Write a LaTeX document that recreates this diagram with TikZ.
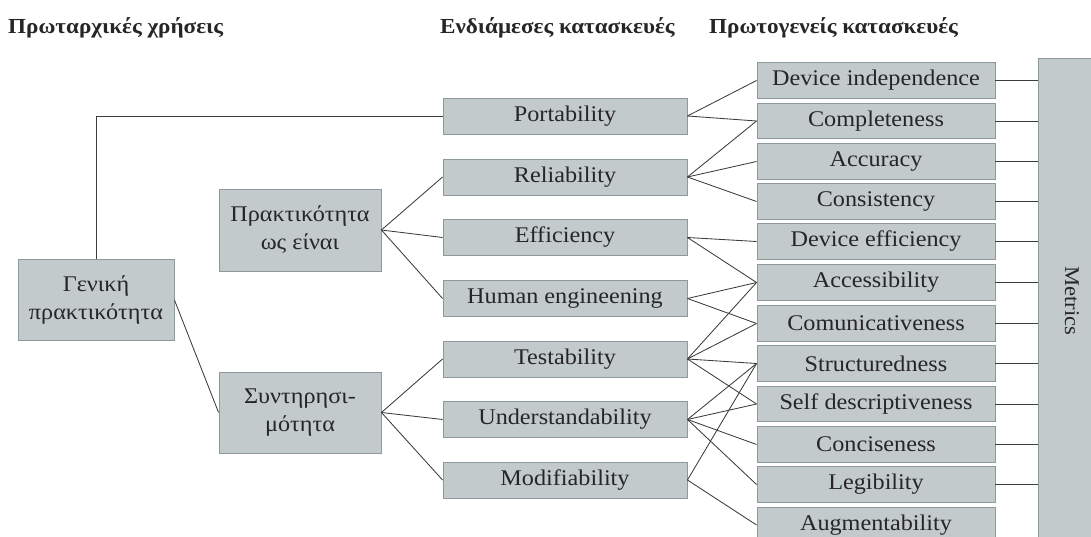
\documentclass[tikz,border=0pt]{standalone}
\usepackage{fontspec}
\setmainfont{Liberation Serif}[FakeStretch=1.08]
\definecolor{boxfill}{HTML}{C3CACB}
\definecolor{boxline}{HTML}{8E999B}
\definecolor{wire}{HTML}{3C3C3C}
\definecolor{ink}{HTML}{262626}
\begin{document}
\begin{tikzpicture}[x=1bp,y=-1bp,
  box/.style={draw=boxline, fill=boxfill, line width=0.9pt, inner sep=0pt,
    text=ink, align=center, font=\fontsize{22.5}{28}\selectfont},
  bigbox/.style={box, minimum width=158bp, minimum height=81bp},
  midbox/.style={box, minimum width=244bp, minimum height=36bp},
  rbox/.style={box, minimum width=238bp, minimum height=35.5bp},
  head/.style={anchor=west, text=ink, inner sep=0pt, font=\fontsize{21.5}{24}\selectfont\bfseries},
  conn/.style={draw=wire, line width=0.85pt}]
\useasboundingbox (0,0) rectangle (1091,537);
\clip (0,0) rectangle (1091,537);

% column headings
\node[head] (h1) at (8,28) {Πρωταρχικές χρήσεις};
\node[head] (h2) at (440,28) {Ενδιάμεσες κατασκευές};
\node[head] (h3) at (709,28) {Πρωτογενείς κατασκευές};

% primary uses
\node[bigbox, minimum width=156bp] (gen) at (96,300) {Γενική\\πρακτικότητα};
\node[bigbox, minimum width=162bp, minimum height=82bp] (asis) at (300,230) {Πρακτικότητα\\ως είναι};
\node[bigbox, minimum width=162bp] (maint) at (300,412.5) {Συντηρησι-\\μότητα};

% intermediate constructs
\node[midbox] (port) at (565,116) {Portability};
\node[midbox] (rel)  at (565,177) {Reliability};
\node[midbox] (eff)  at (565,237.5) {Efficiency};
\node[midbox] (hum)  at (565,298.5) {Human engineening};
\node[midbox] (test) at (565,359) {Testability};
\node[midbox] (und)  at (565,419.5) {Understandability};
\node[midbox] (mod)  at (565,480) {Modifiability};

% primitive constructs
\node[rbox] (devind) at (876,80.5)  {Device independence};
\node[rbox] (compl)  at (876,121)   {Completeness};
\node[rbox] (acc)    at (876,161.5) {Accuracy};
\node[rbox] (cons)   at (876,201.5) {Consistency};
\node[rbox] (deveff) at (876,241.5) {Device efficiency};
\node[rbox] (access) at (876,282.5) {Accessibility};
\node[rbox] (comm)   at (876,323.5) {Comunicativeness};
\node[rbox] (struct) at (876,363.5) {Structuredness};
\node[rbox] (selfd)  at (876,404)   {Self descriptiveness};
\node[rbox] (conc)   at (876,444.5) {Conciseness};
\node[rbox] (leg)    at (876,484.5) {Legibility};
\node[rbox] (augm)   at (876,525)   {Augmentability};

% metrics column
\node[box, minimum width=68bp, minimum height=486bp] (metrics) at (1072,301) {};
\node[text=ink, font=\fontsize{21}{24}\selectfont, rotate=-90] (mlabel) at (1072,301) {Metrics};

% primary uses to their constructs
\draw[conn] (gen.north) |- (port.west);
\draw[conn] (gen.east) -- (maint.west);
\foreach \t in {rel,eff,hum} \draw[conn] (asis.east) -- (\t.west);
\foreach \t in {test,und,mod} \draw[conn] (maint.east) -- (\t.west);

% intermediate to primitive constructs
\foreach \s/\t in {port/devind, port/compl,
                   rel/compl, rel/acc, rel/cons,
                   eff/deveff, eff/access,
                   hum/access, hum/comm,
                   test/access, test/comm, test/struct, test/selfd,
                   und/struct, und/selfd, und/conc, und/leg,
                   mod/struct, mod/augm}
  \draw[conn] (\s.east) -- (\t.west);

% primitive constructs to metrics
\foreach \s in {devind,compl,acc,cons,deveff,access,comm,struct,selfd,conc,leg}
  \draw[conn] (\s.east) -- (\s.east -| metrics.west);
\end{tikzpicture}
\end{document}
